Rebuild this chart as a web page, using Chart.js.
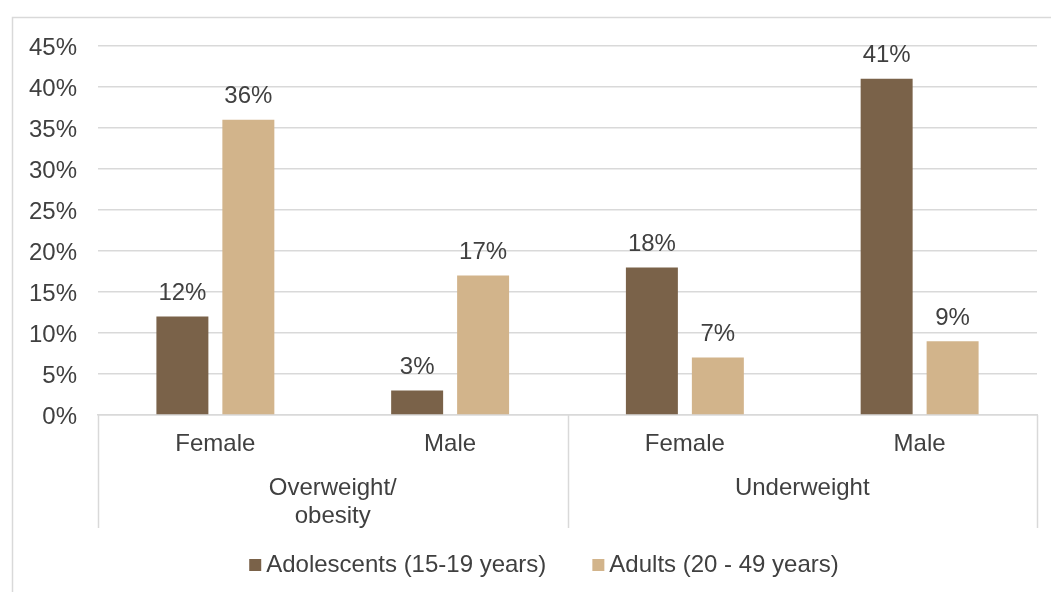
<!DOCTYPE html>
<html>
<head>
<meta charset="utf-8">
<title>Overweight / underweight by age group</title>
<script src="https://cdn.jsdelivr.net/npm/chart.js@4/dist/chart.umd.min.js"></script>
<style>
    html, body { margin: 0; padding: 0; background: #fff; }
    #chart { display: block; }
</style>
</head>
<body>
<canvas id="chart" width="1051" height="592"></canvas>
<script>
'use strict';

/* ── Data ── */
const categories = ['Female', 'Male', 'Female', 'Male'];
const groups = [['Overweight/', 'obesity'], ['Underweight']];
const seriesNames = ['Adolescents (15-19 years)', 'Adults (20 - 49 years)'];
const adolescents = [12, 3, 18, 41];
const adults = [36, 17, 7, 9];
const yMax = 45;
const yStep = 5;

/* ── Look ── */
const COLORS = {
    dark: '#7A6249',
    tan: '#D2B48B',
    grid: '#D9D9D9',
    text: '#404040',
};
const FONT = "'Liberation Sans', Arial, sans-serif";
const FONT_SIZE = 24;

/* outer frame, cut off on the right and bottom */
const framePlugin = {
    id: 'frame',
    beforeDraw(chart) {
        const ctx = chart.ctx;
        ctx.save();
        ctx.strokeStyle = COLORS.grid;
        ctx.lineWidth = 1.5;
        ctx.strokeRect(12.5, 17.5, 1100, 700);
        ctx.restore();
    },
};

/* group separators of the two-level category axis */
const separatorPlugin = {
    id: 'separators',
    afterDraw(chart) {
        const x = chart.scales.x;
        const x2 = chart.scales.x2;
        const { left, right, bottom } = chart.chartArea;
        const mid = (x.getPixelForTick(1) + x.getPixelForTick(2)) / 2;
        const ctx = chart.ctx;
        ctx.save();
        ctx.strokeStyle = COLORS.grid;
        ctx.lineWidth = 1.5;
        [left, mid, right].forEach(px => {
            ctx.beginPath();
            ctx.moveTo(Math.round(px) + 0.5, bottom);
            ctx.lineTo(Math.round(px) + 0.5, x2.bottom);
            ctx.stroke();
        });
        ctx.restore();
    },
};

/* value labels above each bar */
const valueLabelPlugin = {
    id: 'valueLabels',
    afterDatasetsDraw(chart) {
        const ctx = chart.ctx;
        ctx.save();
        ctx.font = `${FONT_SIZE}px ${FONT}`;
        ctx.fillStyle = COLORS.text;
        ctx.textAlign = 'center';
        ctx.textBaseline = 'middle';
        chart.data.datasets.forEach((ds, i) => {
            chart.getDatasetMeta(i).data.forEach((bar, j) => {
                ctx.fillText(ds.data[j] + '%', bar.x, bar.y - 23);
            });
        });
        ctx.restore();
    },
};

/* legend: small square + tight text, centered under the chart */
const legendPlugin = {
    id: 'bottomLegend',
    afterDraw(chart) {
        const ctx = chart.ctx;
        const box = 12, gap = 5, itemGap = 46;
        const cy = 565;
        ctx.save();
        ctx.font = `${FONT_SIZE}px ${FONT}`;
        const items = chart.data.datasets.map(ds => ({
            label: ds.label,
            color: ds.backgroundColor,
            w: ctx.measureText(ds.label).width,
        }));
        const total = items.reduce((s, it) => s + box + gap + it.w, 0) + itemGap * (items.length - 1);
        let x = 544 - total / 2;
        ctx.textBaseline = 'middle';
        ctx.textAlign = 'left';
        items.forEach(it => {
            ctx.fillStyle = it.color;
            ctx.fillRect(x, cy - box / 2, box, box);
            x += box + gap;
            ctx.fillStyle = COLORS.text;
            ctx.fillText(it.label, x, cy);
            x += it.w + itemGap;
        });
        ctx.restore();
    },
};

new Chart(document.getElementById('chart'), {
    type: 'bar',
    data: {
        labels: categories,
        datasets: [
            { label: seriesNames[0], data: adolescents, backgroundColor: COLORS.dark },
            { label: seriesNames[1], data: adults, backgroundColor: COLORS.tan },
        ],
    },
    options: {
        responsive: false,
        animation: false,
        devicePixelRatio: 1,
        categoryPercentage: 0.562,
        barPercentage: 0.788,
        layout: { padding: { top: 46, left: 0, right: 14, bottom: 64 } },
        plugins: {
            legend: { display: false },
            tooltip: { enabled: false },
        },
        scales: {
            y: {
                min: 0,
                max: yMax,
                afterFit(scale) { scale.width = 98; },
                ticks: {
                    stepSize: yStep,
                    padding: 21,
                    labelOffset: 2,
                    color: COLORS.text,
                    font: { family: FONT, size: FONT_SIZE },
                    callback: v => v + '%',
                },
                grid: { color: COLORS.grid, lineWidth: 1.5, drawTicks: false },
                border: { display: false },
            },
            x: {
                afterFit(scale) { scale.height = 55; },
                ticks: {
                    padding: 15,
                    maxRotation: 0,
                    autoSkip: false,
                    color: COLORS.text,
                    font: { family: FONT, size: FONT_SIZE },
                },
                grid: { display: false, drawTicks: false },
                border: { display: true, color: COLORS.grid, width: 1.5 },
            },
            x2: {
                type: 'category',
                position: 'bottom',
                labels: groups,
                offset: true,
                afterFit(scale) { scale.height = 58; },
                ticks: {
                    padding: 5,
                    maxRotation: 0,
                    autoSkip: false,
                    color: COLORS.text,
                    font: { family: FONT, size: FONT_SIZE, lineHeight: 1.15 },
                },
                grid: { display: false, drawTicks: false },
                border: { display: false },
            },
        },
    },
    plugins: [framePlugin, separatorPlugin, valueLabelPlugin, legendPlugin],
});
</script>
</body>
</html>
